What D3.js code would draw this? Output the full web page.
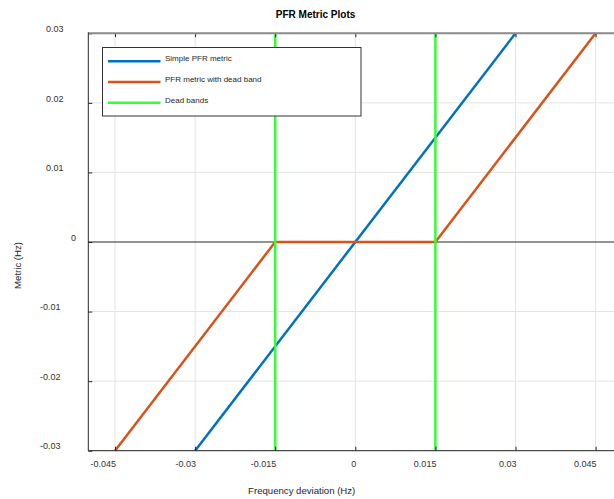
<!DOCTYPE html>
<meta charset="utf-8" />
<style>
    body { margin: 0; background: #fff; }
    text { font-family: "Liberation Sans", Arial, sans-serif; }
    .grid line { stroke: #e3e3e3; stroke-width: 1; }
    .axis path { display: none; }
    .axis line { stroke: #262626; }
    .axis text { fill: #333; font-size: 9px; }
</style>
<svg width="614" height="499"></svg>
<script src="https://d3js.org/d3.v7.min.js"></script>
<script>
    // data
    const xTicks = [-0.045, -0.03, -0.015, 0, 0.015, 0.03, 0.045];
    const yTicks = [-0.03, -0.02, -0.01, 0, 0.01, 0.02, 0.03];
    const simpleX = [-0.03, 0.03];
    const simpleMetric = [-0.03, 0.03];
    const deadBandX = [-0.045, -0.015, 0.015, 0.045];
    const deadBandMetric = [-0.03, 0, 0, 0.03];
    const deadBands = [-0.015, 0.015];
    const seriesNames = ['Simple PFR metric', 'PFR metric with dead band', 'Dead bands'];
    const seriesColors = ['#0072bd', '#d95319', '#33ff33'];

    const svg = d3.select('svg');

    const x = d3.scaleLinear().domain([-0.05, 0.05]).range([88.3, 622.3]);
    const y = d3.scaleLinear().domain([-0.03, 0.03]).range([450.7, 33.3]);

    const plotLeft = x.range()[0];
    const plotTop = y.range()[1];
    const plotBottom = y.range()[0];
    const plotRight = x.range()[1];

    // plain hyphen minus, like the original
    const fmt = d => String(d);

    // grid
    const grid = svg.append('g').attr('class', 'grid');
    grid.selectAll('.gx').data(xTicks).enter().append('line')
        .attr('x1', d => x(d)).attr('x2', d => x(d))
        .attr('y1', plotTop).attr('y2', plotBottom);
    grid.selectAll('.gy').data(yTicks.filter(d => d !== 0)).enter().append('line')
        .attr('x1', plotLeft).attr('x2', plotRight)
        .attr('y1', d => y(d)).attr('y2', d => y(d));

    // zero line
    svg.append('line')
        .attr('x1', plotLeft).attr('x2', plotRight)
        .attr('y1', y(0)).attr('y2', y(0))
        .attr('stroke', '#262626').attr('stroke-width', 1);

    const line = d3.line().x(d => x(d[0])).y(d => y(d[1]));

    svg.append('path')
        .datum(d3.zip(simpleX, simpleMetric))
        .attr('d', line)
        .attr('fill', 'none')
        .attr('stroke', seriesColors[0])
        .attr('stroke-width', 2.5);

    svg.append('path')
        .datum(d3.zip(deadBandX, deadBandMetric))
        .attr('d', line)
        .attr('fill', 'none')
        .attr('stroke', seriesColors[1])
        .attr('stroke-width', 2.5);

    svg.selectAll('.band').data(deadBands).enter().append('line')
        .attr('x1', d => x(d)).attr('x2', d => x(d))
        .attr('y1', y(-0.03)).attr('y2', y(0.03))
        .attr('stroke', seriesColors[2])
        .attr('stroke-width', 2.5);

    // axes
    const xAxis = svg.append('g')
        .attr('class', 'axis')
        .attr('transform', `translate(0,${plotBottom})`)
        .call(d3.axisBottom(x).tickValues(xTicks).tickSize(-4).tickFormat(fmt));
    xAxis.selectAll('text')
        .attr('text-anchor', 'end')
        .attr('x', 0.5)
        .attr('y', 16)
        .attr('dy', 0);

    svg.append('g')
        .attr('class', 'axis')
        .attr('transform', `translate(0,${plotTop})`)
        .call(d3.axisTop(x).tickValues(xTicks).tickSize(-4).tickFormat(''));

    const yAxis = svg.append('g')
        .attr('class', 'axis')
        .attr('transform', `translate(${plotLeft},0)`)
        .call(d3.axisLeft(y).tickValues(yTicks).tickSize(-4).tickFormat(fmt));
    yAxis.selectAll('text')
        .attr('text-anchor', 'start')
        .attr('dy', 0)
        .attr('y', -1.8)
        .attr('x', function () {
            const w = this.getComputedTextLength();
            return 81 - 2 * w - plotLeft;
        });

    // box
    svg.append('line').attr('x1', plotLeft).attr('x2', plotRight).attr('y1', plotTop).attr('y2', plotTop)
        .attr('stroke', '#8a8a8a').attr('stroke-width', 2);
    svg.append('line').attr('x1', plotLeft).attr('x2', plotLeft).attr('y1', plotTop - 1).attr('y2', plotBottom)
        .attr('stroke', '#262626').attr('stroke-width', 1);
    svg.append('line').attr('x1', plotLeft).attr('x2', plotRight).attr('y1', plotBottom).attr('y2', plotBottom)
        .attr('stroke', '#262626').attr('stroke-width', 1);

    // titles
    const mid = (plotLeft + plotRight) / 2;
    svg.append('text')
        .attr('x', mid).attr('y', 17.5)
        .attr('text-anchor', 'end')
        .attr('font-size', '10px')
        .attr('font-weight', 'bold')
        .attr('fill', '#000')
        .text('PFR Metric Plots');

    svg.append('text')
        .attr('x', mid).attr('y', 494)
        .attr('text-anchor', 'end')
        .attr('font-size', '9.6px')
        .attr('fill', '#262626')
        .text('Frequency deviation (Hz)');

    svg.append('text')
        .attr('transform', `translate(20.7,${(plotTop + plotBottom) / 2}) rotate(-90)`)
        .attr('text-anchor', 'end')
        .attr('font-size', '9.6px')
        .attr('fill', '#262626')
        .text('Metric (Hz)');

    // legend
    const legend = svg.append('g').attr('transform', 'translate(102.5,47.5)');
    legend.append('rect')
        .attr('width', 258.5).attr('height', 68.5)
        .attr('fill', '#fff')
        .attr('stroke', '#333')
        .attr('stroke-width', 1);
    const items = legend.selectAll('.item').data(seriesNames).enter().append('g')
        .attr('transform', (d, i) => `translate(0,${13.8 + i * 20.7})`);
    items.append('line')
        .attr('x1', 5.5).attr('x2', 58)
        .attr('stroke', (d, i) => seriesColors[i])
        .attr('stroke-width', 2.5);
    items.append('text')
        .attr('x', 62.5).attr('y', -0.2)
        .attr('font-size', '8px')
        .attr('fill', '#262626')
        .text(d => d);
</script>
